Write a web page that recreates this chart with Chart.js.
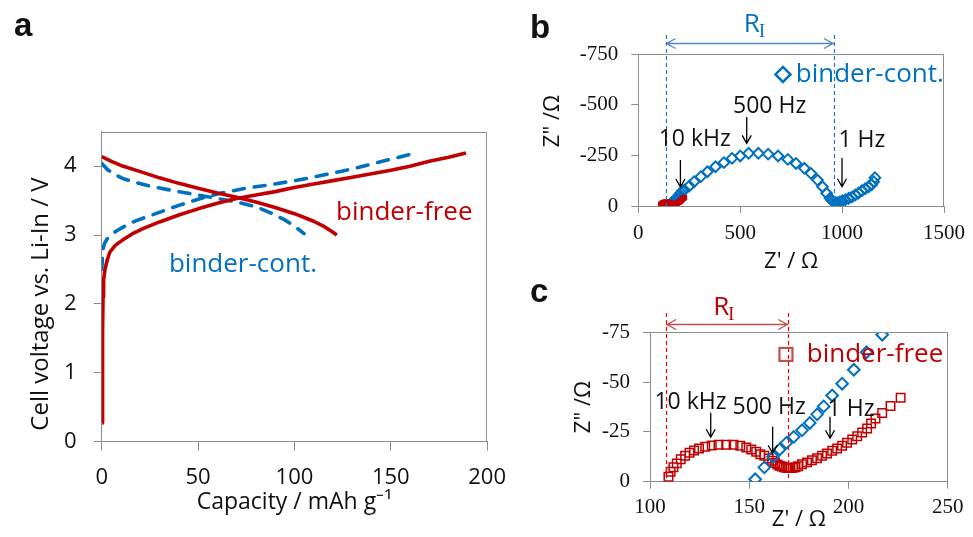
<!DOCTYPE html>
<html><head><meta charset="utf-8">
<script src="https://cdn.jsdelivr.net/npm/chart.js@4.4.1/dist/chart.umd.min.js"></script>
<style>
html,body{margin:0;padding:0;background:#fff;}
#wrap{position:relative;width:973px;height:537px;overflow:hidden;background:#fff}
canvas{position:absolute}
</style></head><body>
<div id="wrap">
<canvas id="ca" style="left:0;top:0;width:520px;height:537px" width="520" height="537"></canvas>
<canvas id="cb" style="left:520px;top:0;width:453px;height:280px" width="453" height="280"></canvas>
<canvas id="cc" style="left:520px;top:270px;width:453px;height:267px" width="453" height="267"></canvas>
</div>
<script>
// ---------- Panel a : charge / discharge curves ----------
const bfChargeCap = [0.3,0.4,0.5,0.7,1.0,1.7,2.8,4.2,7,11,16,22,30,40,50,60,70,80,90,100,110,120,130,140,150,160,170,180,189];
const bfChargeV   = [0.27,1.0,1.6,2.1,2.35,2.5,2.63,2.75,2.85,2.93,3.02,3.1,3.19,3.29,3.38,3.46,3.53,3.58,3.63,3.69,3.74,3.79,3.84,3.89,3.94,4.0,4.07,4.13,4.19];
const bfDischCap  = [0,5,10,20,30,40,50,60,70,80,90,100,110,115,120,122];
const bfDischV    = [4.14,4.07,4.01,3.92,3.83,3.75,3.68,3.61,3.55,3.48,3.4,3.31,3.2,3.13,3.04,3.0];
const bcChargeCap = [0,0.3,0.7,1.5,3,5,7.6,12,18,28,40,50,62,75,85,96,110,120,130,140,150,163];
const bcChargeV   = [2.5,2.62,2.8,2.88,2.95,3.0,3.06,3.13,3.21,3.31,3.43,3.52,3.61,3.68,3.72,3.77,3.84,3.9,3.96,4.03,4.1,4.19];
const bcDischCap  = [0,3,6,11,18,25,36,50,60,70,80,87,95,100,105];
const bcDischV    = [4.04,3.95,3.89,3.82,3.76,3.71,3.65,3.58,3.53,3.48,3.41,3.33,3.22,3.13,3.02];
const capTicks  = [0,50,100,150,200];
const voltTicks = [0,1,2,3,4];

// ---------- Panels b, c : impedance spectra ----------
const bfZre = [109.3,110.4,111.8,113.5,115.5,117.7,119.9,122.2,124.7,127.8,131.1,134.5,138.4,142.1,145.5,148.5,151.0,153.5,155.6,157.6,159.8,161.5,163.0,164.2,165.3,166.4,167.5,168.6,169.7,170.8,172.0,173.3,174.6,176.6,179.1,181.6,184.2,186.7,189.2,191.8,194.3,196.8,199.3,201.9,204.4,206.9,209.4,211.4,213.6,217.0,221.2,226.3];
const bfZim = [-2.5,-5.0,-7.2,-9.2,-11.3,-13.0,-14.5,-15.7,-16.7,-17.5,-18.2,-18.5,-18.5,-18.5,-18.0,-17.2,-16.2,-15.0,-13.8,-13.0,-11.7,-10.5,-9.4,-8.6,-8.0,-7.6,-7.3,-7.0,-6.9,-6.9,-7.0,-7.3,-7.7,-8.8,-9.7,-10.8,-11.8,-13.0,-14.2,-15.5,-16.7,-18.0,-19.5,-21.2,-22.8,-24.7,-26.7,-29.2,-31.7,-34.5,-38.0,-42.2];
const bcZre = [153,157.6,162,165.3,168.7,172.4,176.6,180.5,184.2,187.5,191.8,196.8,202.7,209.1,217,226,250,274,307,339,379,420,460,500,541,589,637,686,734,774,815,847,879,904,924,941,950,957,966,976,988,1000,1016,1033,1049,1065,1081,1097,1113,1130,1145,1155,1161];
const bcZim = [-1.2,-7.2,-12.5,-16.2,-19.5,-22.5,-25.8,-29.5,-33.8,-37.8,-43.3,-49.2,-56.2,-65,-73.8,-79,-99,-120,-145,-169,-194,-214,-235,-247,-260,-260,-256,-247,-230,-210,-186,-161,-128,-95,-63,-38,-28,-21,-17,-16,-20,-26,-31,-38,-45,-54,-64,-75,-85,-95,-105,-120,-140];
const zReTicksB = [0,500,1000,1500];
const zImTicksB = [-750,-500,-250,0];
const zReTicksC = [100,150,200,250];
const zImTicksC = [-75,-50,-25,0];

const RED = '#c00000', BLUE = '#0070c0', GRAY = '#8c8c8c';
const SANS = "'Open Sans', sans-serif";
const SERIF = "'Liberation Serif', 'Times New Roman', serif";
Chart.defaults.font.family = SANS;

const zip = (xs, ys) => xs.map((x, i) => ({x: x, y: ys[i]}));
const setTicks = arr => s => { s.ticks = arr.map(v => ({value: v})); };

function makeAnnot(items) {
  return {
    id: 'annot',
    afterDraw(chart) {
      const ctx = chart.ctx, ca = chart.chartArea;
      const xs = chart.scales.x, ys = chart.scales.y;
      const X = v => xs.getPixelForValue(v), Y = v => ys.getPixelForValue(v);
      ctx.save();
      // frame (top and right)
      ctx.strokeStyle = GRAY; ctx.lineWidth = 1; ctx.setLineDash([]);
      ctx.beginPath();
      const t = Math.round(ca.top) + 0.5, r = Math.round(ca.right) - 0.5;
      ctx.moveTo(ca.left, t); ctx.lineTo(r, t); ctx.lineTo(r, ca.bottom);
      ctx.stroke();
      for (const it of items) {
        ctx.save();
        if (it.kind === 'text') {
          const px = it.px !== undefined ? it.px : X(it.x);
          const py = it.py !== undefined ? it.py : Y(it.y);
          ctx.font = it.font; ctx.fillStyle = it.color || '#111';
          ctx.textAlign = it.align || 'center'; ctx.textBaseline = it.baseline || 'middle';
          ctx.translate(px, py); if (it.rot) ctx.rotate(it.rot);
          ctx.fillText(it.text, 0, 0);
        } else if (it.kind === 'arrow') {
          const px = X(it.x), y1 = Y(it.y1), y2 = Y(it.y2);
          ctx.strokeStyle = '#000'; ctx.lineWidth = 1.3;
          ctx.beginPath(); ctx.moveTo(px, y1); ctx.lineTo(px, y2);
          ctx.moveTo(px - 4.5, y2 - 8); ctx.lineTo(px, y2); ctx.lineTo(px + 4.5, y2 - 8);
          ctx.stroke();
        } else if (it.kind === 'vdash') {
          const px = Math.round(X(it.x)) + 0.5;
          ctx.strokeStyle = it.color; ctx.lineWidth = 1.2; ctx.setLineDash([4, 3]);
          ctx.beginPath(); ctx.moveTo(px, Y(it.y1)); ctx.lineTo(px, Y(it.y2)); ctx.stroke();
        } else if (it.kind === 'harrow') {
          const x1 = X(it.x1), x2 = X(it.x2), py = Math.round(Y(it.y)) + 0.5;
          ctx.strokeStyle = it.color; ctx.lineWidth = 1.3;
          ctx.beginPath(); ctx.moveTo(x1, py); ctx.lineTo(x2, py);
          ctx.moveTo(x1 + 10, py - 5); ctx.lineTo(x1 + 1, py); ctx.lineTo(x1 + 10, py + 5);
          ctx.moveTo(x2 - 10, py - 5); ctx.lineTo(x2 - 1, py); ctx.lineTo(x2 - 10, py + 5);
          ctx.stroke();
        } else if (it.kind === 'RI') {
          const px = X(it.x), py = Y(it.y);
          ctx.fillStyle = it.color; ctx.textAlign = 'left'; ctx.textBaseline = 'alphabetic';
          ctx.font = '26px ' + SANS; ctx.fillText('R', px, py);
          const w = ctx.measureText('R').width;
          ctx.font = '18px ' + SERIF; ctx.fillText('I', px + w - 1, py + 5);
        } else if (it.kind === 'diamond') {
          const px = X(it.x), py = Y(it.y), s = it.size;
          ctx.strokeStyle = it.color; ctx.lineWidth = 2.5;
          ctx.beginPath(); ctx.moveTo(px, py - s); ctx.lineTo(px + s, py); ctx.lineTo(px, py + s); ctx.lineTo(px - s, py); ctx.closePath(); ctx.stroke();
        } else if (it.kind === 'square') {
          const px = X(it.x), py = Y(it.y), s = it.size;
          ctx.strokeStyle = it.color; ctx.lineWidth = 2.2;
          ctx.strokeRect(px - s, py - s, 2 * s, 2 * s);
        }
        ctx.restore();
      }
      ctx.restore();
    }
  };
}

function axisCommon(extra) {
  return Object.assign({
    type: 'linear',
    grid: {drawOnChartArea: false, color: GRAY, lineWidth: 1, tickLength: 7, tickColor: GRAY},
    border: {color: GRAY, width: 1}
  }, extra);
}
const baseOpts = {responsive: false, animation: false, events: [], plugins: {legend: {display: false}, tooltip: {enabled: false}}};

// ---------- Chart a ----------
new Chart(document.getElementById('ca'), {
  type: 'scatter',
  data: {datasets: [
    {label: 'binder-free charge', data: zip(bfChargeCap, bfChargeV), showLine: true, borderColor: RED, borderWidth: 3.6, pointRadius: 0, order: 0, borderJoinStyle: 'round'},
    {label: 'binder-free discharge', data: zip(bfDischCap, bfDischV), showLine: true, borderColor: RED, borderWidth: 3.6, pointRadius: 0, order: 0, borderJoinStyle: 'round'},
    {label: 'binder-cont. charge', data: zip(bcChargeCap, bcChargeV), showLine: true, borderColor: BLUE, borderWidth: 3.6, borderDash: [11, 10], borderCapStyle: 'round', pointRadius: 0, order: 1},
    {label: 'binder-cont. discharge', data: zip(bcDischCap, bcDischV), showLine: true, borderColor: BLUE, borderWidth: 3.6, borderDash: [11, 10], borderCapStyle: 'round', pointRadius: 0, order: 1}
  ]},
  options: Object.assign({}, baseOpts, {
    layout: {padding: {left: 0, top: 131.7, right: 25, bottom: 20.3}},
    scales: {
      x: axisCommon({min: 0, max: 200, afterBuildTicks: setTicks(capTicks), afterFit: s => { s.height = 75; },
        grid: {drawOnChartArea: false, color: GRAY, tickLength: 9},
        ticks: {font: {size: 22}, color: '#111', padding: 14, callback: v => String(v)},
        title: {display: true, text: 'Capacity / mAh g⁻¹', font: {size: 23}, color: '#111', padding: {top: 0, bottom: 0}}}),
      y: axisCommon({min: 0, max: 4.5, afterBuildTicks: setTicks(voltTicks), afterFit: s => { s.width = 101.7; },
        grid: {drawOnChartArea: false, color: GRAY, tickLength: 8},
        ticks: {font: {size: 22}, color: '#111', padding: 17, callback: v => String(v)}})
    }
  }),
  plugins: [makeAnnot([
    {kind: 'text', px: 14, py: 36, text: 'a', font: 'bold 33px "Liberation Sans", Arial, sans-serif', align: 'left', baseline: 'alphabetic'},
    {kind: 'text', px: 41, py: 304, text: 'Cell voltage vs. Li-In / V', font: '24px ' + SANS, rot: -Math.PI / 2},
    {kind: 'text', x: 157, y: 3.22, text: 'binder-free', font: '26px ' + SANS, color: RED, baseline: 'alphabetic'},
    {kind: 'text', x: 73.3, y: 2.467, text: 'binder-cont.', font: '26px ' + SANS, color: BLUE, baseline: 'alphabetic'}
  ])]
});

// ---------- Chart b ----------
new Chart(document.getElementById('cb'), {
  type: 'scatter',
  data: {datasets: [
    {label: 'binder-free', data: zip(bfZre, bfZim), pointStyle: 'rect', pointRadius: 2.4, pointBorderWidth: 2, borderColor: RED, backgroundColor: RED, order: 0},
    {label: 'binder-cont.', data: zip(bcZre, bcZim), pointStyle: 'rectRot', pointRadius: 5.3, pointBorderWidth: 2, borderColor: BLUE, backgroundColor: 'rgba(0,0,0,0)', order: 1}
  ]},
  options: Object.assign({}, baseOpts, {
    layout: {padding: {left: 0, top: 54, right: 24.7, bottom: 0}},
    scales: {
      x: axisCommon({min: 0, max: 1500, afterBuildTicks: setTicks(zReTicksB), afterFit: s => { s.height = 74; },
        ticks: {font: {size: 21, family: SERIF}, color: '#111', padding: 8, callback: v => String(v)},
        title: {display: true, text: "Z' / Ω", font: {size: 22}, color: '#111', padding: {top: 0, bottom: 5.5}}}),
      y: axisCommon({min: -750, max: 0, reverse: true, afterBuildTicks: setTicks(zImTicksB), afterFit: s => { s.width = 118.3; },
        ticks: {font: {size: 21, family: SERIF}, color: '#111', padding: 13, callback: v => String(v)}})
    }
  }),
  plugins: [makeAnnot([
    {kind: 'text', px: 10, py: 38, text: 'b', font: 'bold 33px "Liberation Sans", Arial, sans-serif', align: 'left', baseline: 'alphabetic'},
    {kind: 'text', px: 33, py: 121, text: 'Z" /Ω', font: '22px ' + SANS, rot: -Math.PI / 2},
    {kind: 'vdash', x: 134, y1: -844, y2: 0, color: '#2e75b6'},
    {kind: 'vdash', x: 960, y1: -844, y2: 0, color: '#2e75b6'},
    {kind: 'harrow', x1: 134, x2: 960, y: -806, color: '#4f86c6'},
    {kind: 'RI', x: 518, y: -860, color: BLUE},
    {kind: 'diamond', x: 709.7, y: -649, size: 7.5, color: BLUE},
    {kind: 'text', x: 772.6, y: -649, text: 'binder-cont.', font: '26px ' + SANS, color: BLUE, align: 'left'},
    {kind: 'text', x: 644.4, y: -493, text: '500 Hz', font: '23px ' + SANS},
    {kind: 'arrow', x: 532, y1: -439, y2: -309},
    {kind: 'text', x: 276.7, y: -330, text: '10 kHz', font: '23px ' + SANS},
    {kind: 'arrow', x: 206.6, y1: -227, y2: -94},
    {kind: 'text', x: 1096.8, y: -321, text: '1 Hz', font: '23px ' + SANS},
    {kind: 'arrow', x: 999.5, y1: -237, y2: -95}
  ])]
});

// ---------- Chart c ----------
new Chart(document.getElementById('cc'), {
  type: 'scatter',
  data: {datasets: [
    {label: 'binder-cont.', data: zip(bcZre, bcZim), pointStyle: 'rectRot', pointRadius: 5.8, pointBorderWidth: 2, borderColor: BLUE, backgroundColor: 'rgba(0,0,0,0)', order: 0},
    {label: 'binder-free', data: zip(bfZre, bfZim), pointStyle: 'rect', pointRadius: 6, pointBorderWidth: 1.5, borderColor: RED, backgroundColor: 'rgba(0,0,0,0)', order: 1}
  ]},
  options: Object.assign({}, baseOpts, {
    layout: {padding: {left: 0, top: 62.3, right: 25.3, bottom: 0}},
    scales: {
      x: axisCommon({min: 100, max: 250, afterBuildTicks: setTicks(zReTicksC), afterFit: s => { s.height = 55.3; },
        ticks: {font: {size: 21, family: SERIF}, color: '#111', padding: 6, callback: v => String(v)},
        title: {display: true, text: "Z' / Ω", font: {size: 22}, color: '#111', padding: {top: 0, bottom: 3.8}}}),
      y: axisCommon({min: -75, max: 0, reverse: true, afterBuildTicks: setTicks(zImTicksC), afterFit: s => { s.width = 130; },
        ticks: {font: {size: 21, family: SERIF}, color: '#111', padding: 13, callback: v => String(v)}})
    }
  }),
  plugins: [makeAnnot([
    {kind: 'text', px: 10, py: 32, text: 'c', font: 'bold 33px "Liberation Sans", Arial, sans-serif', align: 'left', baseline: 'alphabetic'},
    {kind: 'text', px: 64, py: 137, text: 'Z" /Ω', font: '22px ' + SANS, rot: -Math.PI / 2},
    {kind: 'vdash', x: 108.1, y1: -84.7, y2: 0, color: '#ff0000'},
    {kind: 'vdash', x: 169.7, y1: -84.7, y2: 0, color: '#ff0000'},
    {kind: 'harrow', x1: 108.1, x2: 169.7, y: -79.2, color: '#c0504d'},
    {kind: 'RI', x: 131.9, y: -83.7, color: RED},
    {kind: 'square', x: 168.5, y: -63.9, size: 6.5, color: '#c0504d'},
    {kind: 'text', x: 179.0, y: -63.9, text: 'binder-free', font: '26px ' + SANS, color: RED, align: 'left'},
    {kind: 'text', x: 120.4, y: -40.0, text: '10 kHz', font: '23px ' + SANS},
    {kind: 'arrow', x: 130.6, y1: -34.6, y2: -22.3},
    {kind: 'text', x: 160.0, y: -37.5, text: '500 Hz', font: '23px ' + SANS},
    {kind: 'arrow', x: 161.8, y1: -27.6, y2: -14.3},
    {kind: 'text', x: 201.3, y: -36.5, text: '1 Hz', font: '23px ' + SANS},
    {kind: 'arrow', x: 190.7, y1: -32.6, y2: -21.8}
  ])]
});
</script>
</body></html>
